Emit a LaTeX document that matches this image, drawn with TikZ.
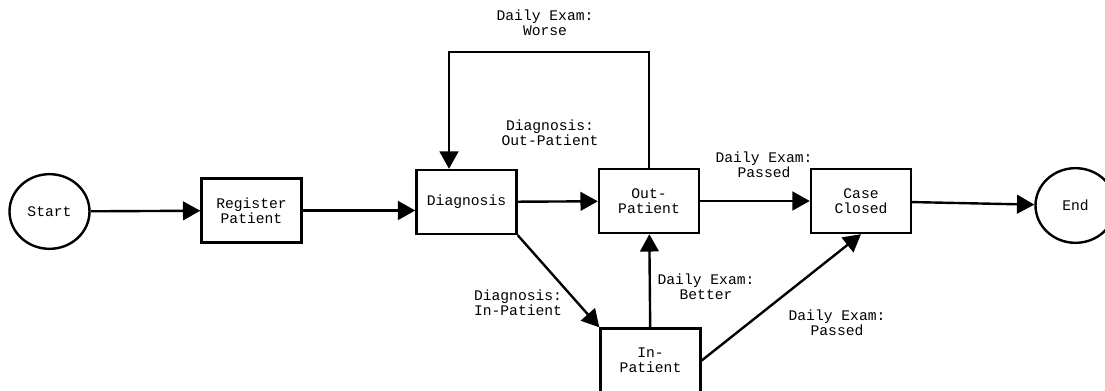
\documentclass[tikz,border=0pt]{standalone}
\usepackage{fontspec}
\setmonofont{Liberation Mono}
\usetikzlibrary{arrows.meta,shapes.geometric}
\tikzset{>={Triangle[width=14pt,length=13pt]}}

\begin{document}
\begin{tikzpicture}[x=0.75pt,y=-0.75pt,font=\ttfamily\fontsize{11}{11.3}\selectfont,line width=1.8pt]
\tikzstyle{b}=[rectangle,draw,align=center,minimum width=75pt,minimum height=48pt]
\tikzstyle{e}=[ellipse,draw,minimum width=60pt,minimum height=56pt]
\tikzstyle{t}=[align=center,inner sep=0]

    \useasboundingbox (0,0) rectangle (1105,391);

    \node[e] (start) at (49.5,211.5){Start};
    \node[b] (reg) at (251.5,210.5){Register\\Patient};
    \node[b] (diag) at (466.5,202){Diagnosis};
    \node[b] (out) at (649,201){Out-\\Patient};
    \node[b] (closed) at (861,201){Case\\Closed};
    \node[e] (end) at (1075.5,205.5){End};
    \node[b] (in) at (650.5,360.5){In-\\Patient};

    \coordinate (loopR) at (649,52);
    \coordinate (loopL) at (449,52);

    \node[t] (l1) at (545,23){Daily Exam:\\Worse};
    \node[t] (l2) at (550,133){Diagnosis:\\Out-Patient};
    \node[t] (l3) at (764,165){Daily Exam:\\Passed};
    \node[t] (l4) at (706,287){Daily Exam:\\Better};
    \node[t] (l5) at (518,303){Diagnosis:\\In-Patient};
    \node[t] (l6) at (837,323){Daily Exam:\\Passed};

    \draw[->] (start) -- (reg);
    \draw[->] (reg.east) -- (reg.east -| diag.west);
    \draw[->] (diag) -- (out);
    \draw[->] (out) -- (closed);
    \draw[->] (closed) -- (end);
    \draw[->] (diag.south east) -- (in.north west);
    \draw[->] (in) -- (out);
    \draw[->] (in.east) -- (closed.south);
    \draw[->] (out.north) -- (loopR) -- (loopL) -- (loopL |- diag.north);

\end{tikzpicture}
\end{document}
